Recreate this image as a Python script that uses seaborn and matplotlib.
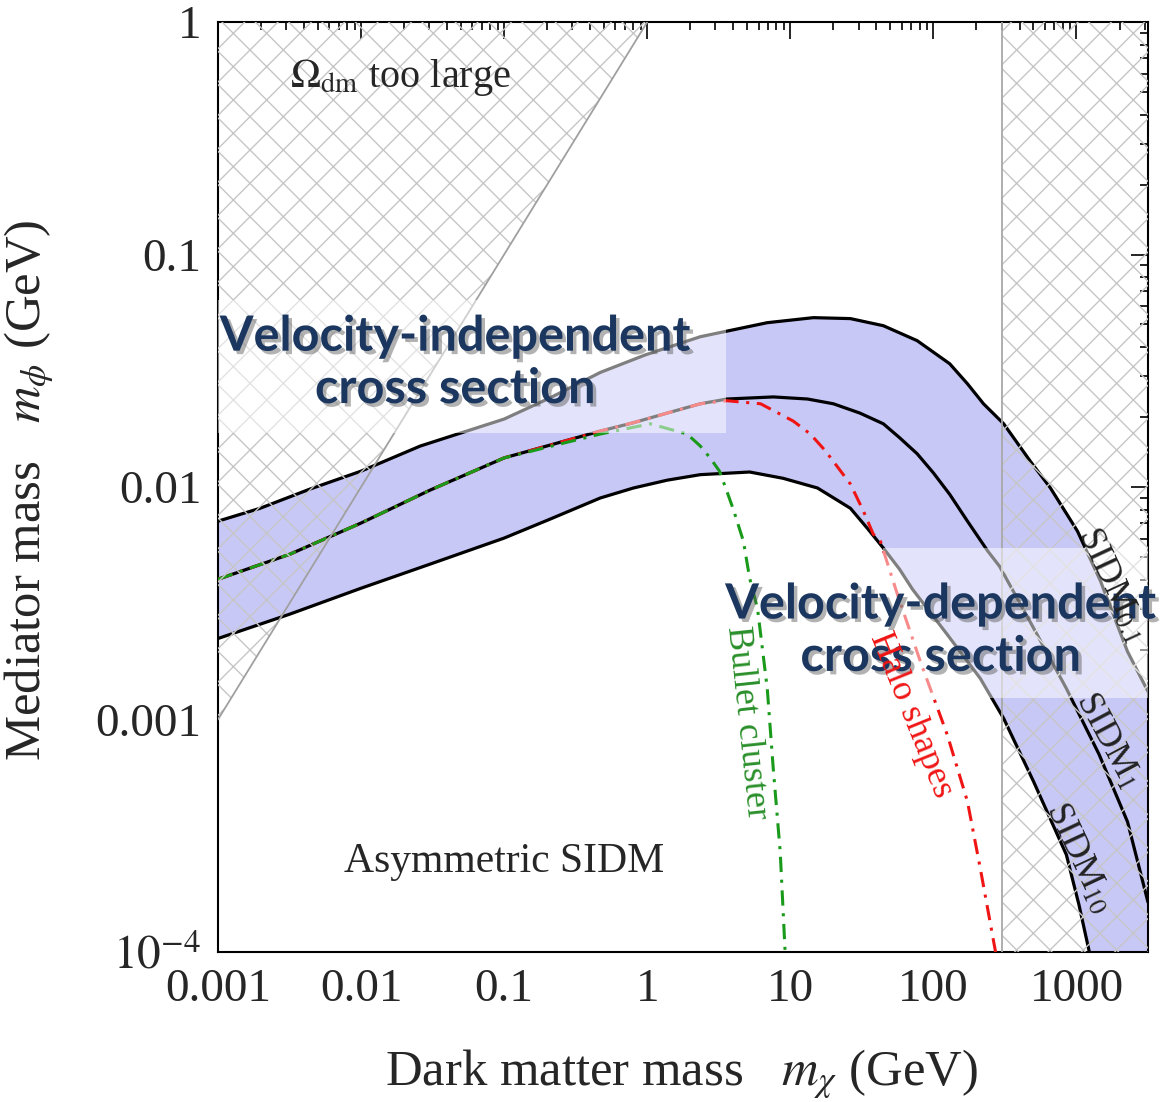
import matplotlib
matplotlib.use("Agg")
import matplotlib.pyplot as plt
import matplotlib.patheffects as pe
from matplotlib.patches import Polygon, Rectangle
from matplotlib.ticker import FixedLocator, LogLocator, NullFormatter
import seaborn as sns

# Curves: dark matter mass m_chi (GeV) -> mediator mass m_phi (GeV)
MCHI_SIDM01 = [0.001, 0.00197, 0.0044, 0.01, 0.0259, 0.1, 0.21, 0.47, 0.97, 2.35, 6.9, 14.5,
               26.3, 44.7, 77, 130, 173, 224, 310, 476, 658, 1016, 1472, 2274, 3160]
MPHI_SIDM01 = [0.00713, 0.0081, 0.0098, 0.0117, 0.0150, 0.0196, 0.0242, 0.0311, 0.037, 0.0443,
               0.0509, 0.0535, 0.053, 0.0494, 0.0426, 0.0339, 0.0278, 0.0228, 0.0187, 0.0129,
               0.0099, 0.00646, 0.00394, 0.00196, 0.00132]

MCHI_SIDM1 = [0.001, 0.00318, 0.01, 0.0304, 0.1, 0.47, 0.80, 1.38, 2.35, 3.6, 7.6, 13.2, 20,
              30.6, 44.7, 58, 77, 100, 130, 173, 240, 290, 502, 850, 1440, 2274, 3160]
MPHI_SIDM1 = [0.00401, 0.00514, 0.0070, 0.0097, 0.01334, 0.0174, 0.0189, 0.0208, 0.0228, 0.0239,
              0.0244, 0.0239, 0.0228, 0.0208, 0.0187, 0.0163, 0.0139, 0.0115, 0.0093, 0.00713,
              0.0053, 0.00456, 0.00247, 0.00136, 0.000707, 0.000363, 0.000164]

MCHI_SIDM10 = [0.001, 0.00318, 0.01, 0.0304, 0.1, 0.21, 0.47, 0.80, 1.38, 2.35, 5.2, 8.9, 15.5,
               26.3, 34.5, 44.7, 58, 71.5, 125, 213, 310, 502, 850, 1040, 1230]
MPHI_SIDM10 = [0.00223, 0.00284, 0.00367, 0.00466, 0.00603, 0.00728, 0.00897, 0.0099, 0.0107,
               0.0113, 0.0116, 0.0109, 0.0099, 0.0081, 0.00665, 0.00546, 0.00443, 0.00363,
               0.00232, 0.0015, 0.00101, 0.00054, 0.000262, 0.00016, 0.0001]

MCHI_BULLET = [0.001, 0.00318, 0.01, 0.0304, 0.1, 0.47, 1.05, 1.9, 2.35, 2.76, 3.2, 3.6, 4.0,
               4.7, 5.2, 5.9, 6.9, 7.6, 8.5, 9.2]
MPHI_BULLET = [0.00401, 0.00514, 0.0070, 0.0097, 0.01334, 0.0169, 0.0187, 0.0169, 0.0150, 0.0133,
               0.0117, 0.0096, 0.0080, 0.00585, 0.00405, 0.0030, 0.00136, 0.000615, 0.00027, 0.0001]

MCHI_HALO = [0.001, 0.00318, 0.01, 0.0304, 0.1, 0.47, 0.80, 1.38, 2.35, 3.6, 6.2, 10.5, 13.8,
             17.6, 26.3, 32.4, 38, 42.6, 56, 81, 125, 173, 213, 272]
MPHI_HALO = [0.00401, 0.00514, 0.0070, 0.0097, 0.01334, 0.0174, 0.0189, 0.0208, 0.0228, 0.0235,
             0.0228, 0.0192, 0.0169, 0.0143, 0.0103, 0.00789, 0.00627, 0.00585, 0.00346,
             0.00178, 0.00086, 0.000444, 0.000228, 0.0001]

# relic density bound m_phi > m_chi, and the high mass exclusion
RELIC_MCHI = [0.001, 1.0, 0.001]
RELIC_MPHI = [0.001, 1.0, 1.0]
HIGH_MASS_CUT = 300

X_LIM = (1e-3, 10 ** 3.5)
Y_LIM = (1e-4, 1.0)
X_TICKS = [1e-3, 1e-2, 1e-1, 1, 10, 100, 1000]
X_TICK_LABELS = ["0.001", "0.01", "0.1", "1", "10", "100", "1000"]
Y_TICKS = [1e-4, 1e-3, 1e-2, 1e-1, 1]
Y_TICK_LABELS = [r"$10^{-4}$", "0.001", "0.01", "0.1", "1"]

BAND_COLOR = "#c8c8f7"
HATCH_COLOR = "#c6c6c6"
NAVY = "#1b3760"

sns.set_theme(style="white")
plt.rcParams["font.family"] = ["Liberation Serif", "DejaVu Serif"]
plt.rcParams["mathtext.fontset"] = "stix"
plt.rcParams["hatch.linewidth"] = 1.0

fig = plt.figure(figsize=(11.61, 11.02), dpi=100)
ax = fig.add_axes([218 / 1161, 150 / 1102, 930 / 1161, 930 / 1102])
ax.set_xscale("log")
ax.set_yscale("log")
ax.set_xlim(*X_LIM)
ax.set_ylim(*Y_LIM)

# shaded band between SIDM_0.1 and SIDM_10
band_x = MCHI_SIDM01 + [X_LIM[1]] + MCHI_SIDM10[::-1]
band_y = MPHI_SIDM01 + [Y_LIM[0]] + MPHI_SIDM10[::-1]
ax.fill(band_x, band_y, color=BAND_COLOR, lw=0, zorder=1)

for xs, ys in [(MCHI_SIDM01, MPHI_SIDM01), (MCHI_SIDM1, MPHI_SIDM1), (MCHI_SIDM10, MPHI_SIDM10)]:
    sns.lineplot(x=xs, y=ys, ax=ax, color="black", lw=2.3, sort=False, estimator=None, zorder=3)

sns.lineplot(x=MCHI_BULLET, y=MPHI_BULLET, ax=ax, color="#1a9a1a", lw=2.2, sort=False,
             estimator=None, linestyle=(0, (5, 2.5, 1, 2.5)), zorder=4)
sns.lineplot(x=MCHI_HALO, y=MPHI_HALO, ax=ax, color="#f01515", lw=2.2, sort=False,
             estimator=None, linestyle=(0, (5, 2.5, 1, 2.5)), zorder=3.5)

# excluded regions
relic = Polygon(list(zip(RELIC_MCHI, RELIC_MPHI)), closed=True, fill=False,
                hatch="x", edgecolor=HATCH_COLOR, lw=0, zorder=5)
ax.add_patch(relic)
sns.lineplot(x=RELIC_MCHI[:2], y=RELIC_MPHI[:2], ax=ax, color="#a0a0a0", lw=1.3, zorder=5)
ax.axvspan(HIGH_MASS_CUT, X_LIM[1], fill=False, hatch="x", edgecolor=HATCH_COLOR, lw=0, zorder=5)
ax.axvline(HIGH_MASS_CUT, color="#a8a8a8", lw=1.3, zorder=5)

# translucent boxes behind the big annotations
ax.add_patch(Rectangle((0.0, 0.558), 0.546, 0.143, transform=ax.transAxes,
                       facecolor="white", alpha=0.5, lw=0, zorder=6))
ax.add_patch(Rectangle((0.715, 0.273), 0.285, 0.161, transform=ax.transAxes,
                       facecolor="white", alpha=0.5, lw=0, zorder=6))

shadow = [pe.SimplePatchShadow(offset=(2.5, -2.5), shadow_rgbFace="#555555", alpha=0.45), pe.Normal()]
ax.text(0.255, 0.634, "Velocity-independent\ncross section", transform=ax.transAxes,
        ha="center", va="center", fontsize=35, fontweight="bold", color=NAVY,
        family=["Lato", "DejaVu Sans"], linespacing=1.2, path_effects=shadow, zorder=7)
ax.text(0.777, 0.346, "Velocity-dependent\ncross section", transform=ax.transAxes,
        ha="center", va="center", fontsize=35, fontweight="bold", color=NAVY,
        family=["Lato", "DejaVu Sans"], linespacing=1.2, path_effects=shadow, zorder=7,
        clip_on=False)

ax.text(0.077, 0.94, r"$\Omega_{\rm dm}$ too large", transform=ax.transAxes,
        ha="left", va="center", fontsize=29, zorder=7)
ax.text(0.308, 0.097, "Asymmetric SIDM", transform=ax.transAxes,
        ha="center", va="center", fontsize=30, zorder=7)
ax.text(0.568, 0.247, "Bullet cluster", transform=ax.transAxes, ha="center", va="center",
        rotation=-84, rotation_mode="anchor", fontsize=26, color="#2a8f2a", zorder=7)
ax.text(0.745, 0.255, "Halo shapes", transform=ax.transAxes, ha="center", va="center",
        rotation=-68, rotation_mode="anchor", fontsize=26, color="#f01515", zorder=7)
ax.text(0.961, 0.395, r"SIDM$_{0.1}$", transform=ax.transAxes, ha="center", va="center",
        rotation=-65, rotation_mode="anchor", fontsize=26, color="#222222", zorder=7)
ax.text(0.957, 0.228, r"SIDM$_{1}$", transform=ax.transAxes, ha="center", va="center",
        rotation=-62, rotation_mode="anchor", fontsize=26, color="#222222", zorder=7)
ax.text(0.925, 0.101, r"SIDM$_{10}$", transform=ax.transAxes, ha="center", va="center",
        rotation=-65, rotation_mode="anchor", fontsize=26, color="#222222", zorder=7)

# frame, ticks and labels
ax.xaxis.set_major_locator(FixedLocator(X_TICKS))
ax.yaxis.set_major_locator(FixedLocator(Y_TICKS))
ax.set_xticklabels(X_TICK_LABELS)
ax.set_yticklabels(Y_TICK_LABELS)
ax.xaxis.set_minor_locator(LogLocator(base=10, subs=range(2, 10), numticks=20))
ax.yaxis.set_minor_locator(LogLocator(base=10, subs=range(2, 10), numticks=20))
ax.xaxis.set_minor_formatter(NullFormatter())
ax.yaxis.set_minor_formatter(NullFormatter())
ax.tick_params(which="both", direction="in", top=True, right=True, color="black", width=1.2)
ax.tick_params(which="major", length=12, labelsize=34, pad=12)
ax.tick_params(which="minor", length=6)
for spine in ax.spines.values():
    spine.set_visible(True)
    spine.set_color("black")
    spine.set_linewidth(1.5)

ax.set_xlabel(r"Dark matter mass   $m_\chi$ (GeV)", fontsize=36.5)
ax.set_ylabel(r"Mediator mass   $m_\phi$ (GeV)", fontsize=36.5)
ax.xaxis.set_label_coords(0.498, -0.103)
ax.yaxis.set_label_coords(-0.174, 0.497)

fig.savefig("out.png", dpi=100)
